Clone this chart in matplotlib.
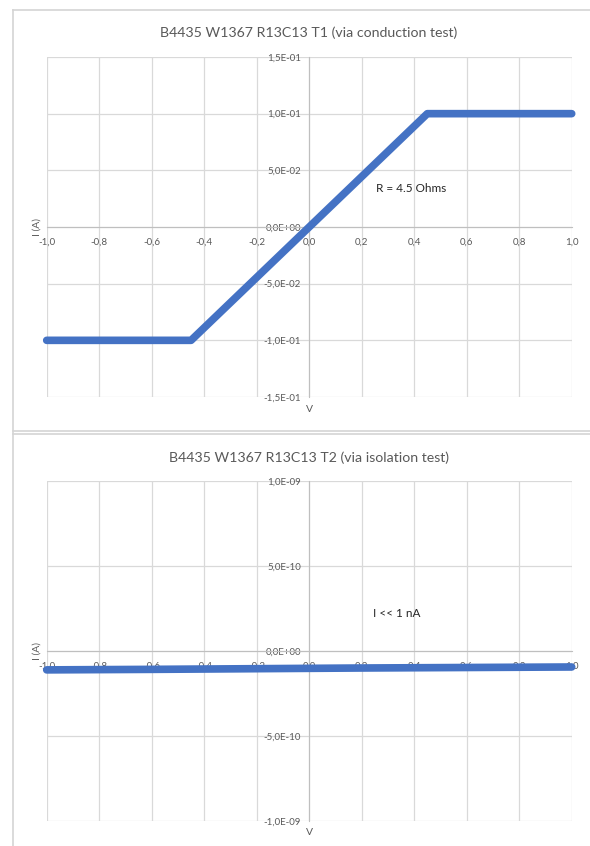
import numpy as np
import matplotlib.pyplot as plt
from matplotlib.lines import Line2D

plt.rcParams['font.family'] = ['Lato', 'DejaVu Sans']

# Data
v_t1 = [-1.0, -0.45, 0.45, 1.0]            # V
i_t1 = [-0.1, -0.1, 0.1, 0.1]              # A
v_t2 = [-1.0, -0.6, -0.2, 0.2, 0.6, 1.0]   # V
i_t2 = [-1.12e-10, -1.09e-10, -1.05e-10, -1.01e-10, -0.98e-10, -0.95e-10]  # A

titles = ['B4435 W1367 R13C13 T1 (via conduction test)',
          'B4435 W1367 R13C13 T2 (via isolation test)']
notes = ['R = 4.5 Ohms', 'I << 1 nA']
note_pos = [(0.255, 0.034), (0.244, 2.2e-10)]
y_ticks = [np.linspace(-0.15, 0.15, 7), np.linspace(-1e-9, 1e-9, 5)]
x_ticks = np.round(np.linspace(-1.0, 1.0, 11), 1) + 0.0

BLUE = '#4472C4'
GRID = '#d9d9d9'
TXT = '#595959'

W, H = 590, 846
fig = plt.figure(figsize=(W / 100, H / 100), dpi=100)

def fx(px):
    return px / W

def fy(py):
    return 1 - py / H

# chart frames
frame = dict(color='#d4d4d4', lw=1.2, transform=fig.transFigure)
fig.add_artist(Line2D([fx(13), fx(13)], [fy(10), fy(846)], **frame))
fig.add_artist(Line2D([fx(13), fx(590)], [fy(10), fy(10)], **frame))
fig.add_artist(Line2D([fx(13), fx(590)], [fy(431), fy(431)], **frame))
fig.add_artist(Line2D([fx(13), fx(590)], [fy(434), fy(434)], **frame))

# plot areas (pixels): left, right, top, bottom
areas = [(46.7, 571.7, 57, 397), (46.7, 571.7, 481, 820.7)]
title_y = [33, 458]
data = [(v_t1, i_t1), (v_t2, i_t2)]

for k in range(2):
    l, r, t, b = areas[k]
    ax = fig.add_axes([fx(l), fy(b), (r - l) / W, (b - t) / H])
    yt = y_ticks[k]
    ax.set_xlim(-1, 1)
    ax.set_ylim(yt[0], yt[-1])
    ax.set_xticks(x_ticks)
    ax.set_yticks(yt)
    ax.set_xticklabels([f'{v:.1f}'.replace('.', ',') for v in x_ticks])
    ax.set_yticklabels([f'{v + 0.0:.1E}'.replace('.', ',') for v in yt])
    ax.grid(True, color=GRID, lw=0.9)
    ax.set_axisbelow(True)
    for s in ['top', 'right']:
        ax.spines[s].set_visible(False)
    ax.spines['left'].set_position(('data', 0))
    ax.spines['bottom'].set_position(('data', 0))
    ax.spines['left'].set_color('#bfbfbf')
    ax.spines['bottom'].set_color('#bfbfbf')
    ax.tick_params(length=0, labelsize=7, labelcolor=TXT)
    ax.tick_params(axis='x', pad=8)
    ax.tick_params(axis='y', pad=6)

    v, i = data[k]
    ax.plot(v, i, color=BLUE, lw=5.5, solid_capstyle='round',
            solid_joinstyle='round', clip_on=False, zorder=3)

    ax.text(note_pos[k][0], note_pos[k][1], notes[k], fontsize=8.5,
            color='#262626', ha='left', va='center')

    fig.text(fx(309), fy(title_y[k]), titles[k], fontsize=10.2,
             color=TXT, ha='center', va='center')
    fig.text(fx(309), fy(b + 12), 'V', fontsize=7.5, color=TXT,
             ha='center', va='center')
    zero_px = (t + b) / 2
    fig.text(fx(37), fy(zero_px), 'I (A)', fontsize=7.5, color=TXT,
             rotation=90, ha='center', va='center')

plt.savefig('out.png', dpi=100)
